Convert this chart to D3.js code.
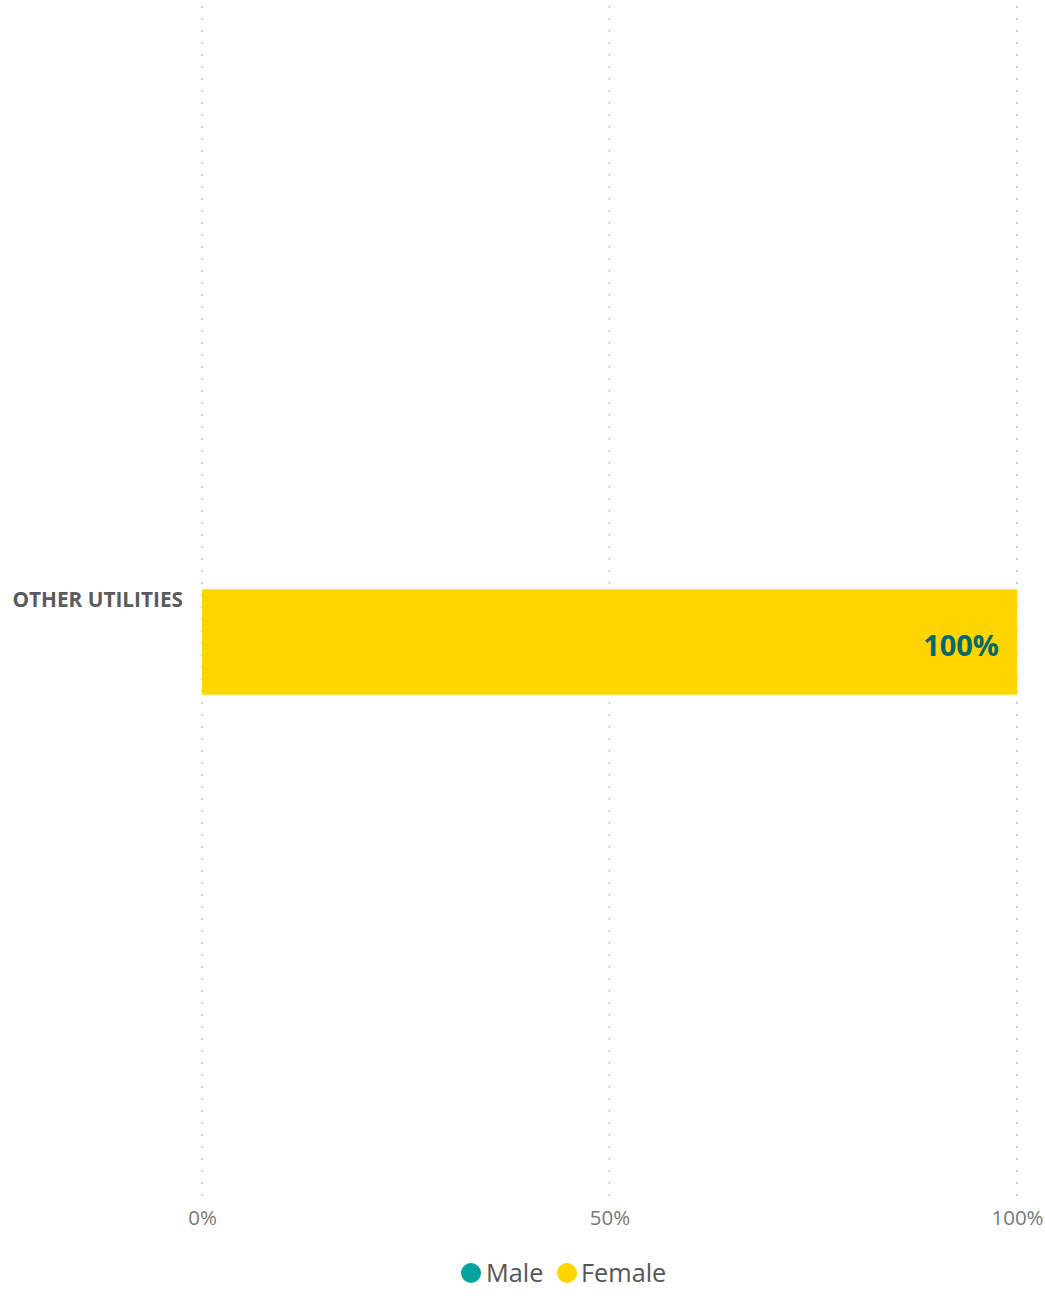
<!DOCTYPE html>
<html><head><meta charset="utf-8">
<script src="https://cdn.jsdelivr.net/npm/d3@7"></script>
<style>body{margin:0;background:#fff}svg{display:block}</style>
</head><body>
<script>
const categories = ["OTHER UTILITIES"];
const seriesNames = ["Male", "Female"];
const maleValues = [0];
const femaleValues = [100];
const tickValues = [0, 50, 100];
const colors = {Male: "#01A39F", Female: "#FFD500"};

const W = 1045, H = 1296;
const svg = d3.select("body").append("svg").attr("width", W).attr("height", H);
const font = "'Open Sans', 'Noto Sans', sans-serif";

const x = d3.scaleLinear().domain([0, 100]).range([202, 1017]);
const y = d3.scaleBand().domain(categories).range([88, 1196]).paddingInner(0).paddingOuter(4.75);

const rows = categories.map((c, i) => ({cat: c, Male: maleValues[i], Female: femaleValues[i]}));
const stack = d3.stack().keys(seriesNames)(rows);

// grid
svg.append("g").selectAll("line").data(tickValues).join("line")
  .attr("x1", d => x(d)).attr("x2", d => x(d))
  .attr("y1", 6).attr("y2", 1196)
  .attr("stroke", "#c4c4c4").attr("stroke-width", 1.5)
  .attr("stroke-dasharray", "2,10");

// bars
svg.append("g").selectAll("g").data(stack).join("g")
  .attr("fill", d => colors[d.key])
  .selectAll("rect").data(d => d).join("rect")
  .attr("x", d => x(d[0])).attr("width", d => x(d[1]) - x(d[0]))
  .attr("y", d => y(d.data.cat)).attr("height", y.bandwidth());

// value labels
stack.forEach(s => {
  svg.append("g").selectAll("text").data(s.filter(d => d[1] - d[0] > 0)).join("text")
    .attr("x", d => x(d[1]) - 18)
    .attr("y", d => y(d.data.cat) + y.bandwidth() / 2 + 14)
    .attr("text-anchor", "end")
    .attr("font-family", font).attr("font-weight", 700).attr("font-size", 29)
    .attr("fill", "#03676B")
    .text(d => Math.round(d[1] - d[0]) + "%");
});

// category labels
svg.append("g").selectAll("text").data(categories).join("text")
  .attr("x", 183).attr("y", d => y(d) + 18)
  .attr("text-anchor", "end")
  .attr("font-family", font).attr("font-weight", 700).attr("font-size", 20.8)
  .attr("fill", "#5a5a5a")
  .text(d => d);

// x axis labels
const xAxis = d3.axisBottom(x).tickValues(tickValues).tickFormat(d => d + "%").tickSize(0).tickPadding(0);
const ax = svg.append("g").attr("transform", "translate(0,1225)").call(xAxis);
ax.select(".domain").remove();
ax.selectAll("text").attr("font-family", font).attr("font-size", 20.5).attr("fill", "#777").attr("dy", 0);

// legend
const legend = [{name: "Male", cx: 471, tx: 486}, {name: "Female", cx: 567, tx: 581}];
const lg = svg.append("g");
lg.selectAll("circle").data(legend).join("circle")
  .attr("cx", d => d.cx).attr("cy", 1273).attr("r", 10)
  .attr("fill", d => colors[d.name]);
lg.selectAll("text").data(legend).join("text")
  .attr("x", d => d.tx).attr("y", 1282)
  .attr("font-family", font).attr("font-size", 25.3).attr("fill", "#555")
  .text(d => d.name);
</script>
</body></html>
